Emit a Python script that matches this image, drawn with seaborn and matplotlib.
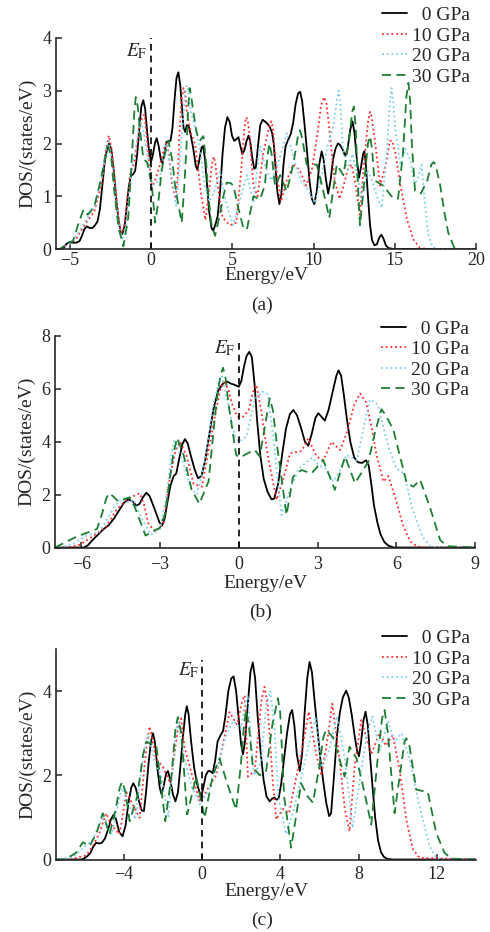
import numpy as np
import pandas as pd
import matplotlib
matplotlib.use("Agg")
import matplotlib.pyplot as plt
import seaborn as sns

# ---- data (energy in eV, DOS in states/eV) ----
labels = ["  0 GPa", "10 GPa", "20 GPa", "30 GPa"]

# panel (a)
a0_e = [-5.85, -5.5, -5.35, -5.2, -5.0, -4.8, -4.6, -4.4, -4.25, -4.1, -3.95, -3.8, -3.6, -3.45, -3.3, -3.15, -3.0, -2.85, -2.7, -2.58, -2.45, -2.3, -2.15, -2.0, -1.88, -1.75, -1.62, -1.5, -1.38, -1.25, -1.1, -0.98, -0.85, -0.72, -0.6, -0.48, -0.36, -0.25, -0.12, 0.0, 0.12, 0.25, 0.35, 0.47, 0.6, 0.7, 0.82, 0.95, 1.08, 1.2, 1.32, 1.45, 1.57, 1.68, 1.8, 1.9, 2.0, 2.1, 2.2, 2.32, 2.45, 2.6, 2.75, 2.85, 2.98, 3.1, 3.2, 3.32, 3.45, 3.58, 3.72, 3.82, 3.95, 4.1, 4.25, 4.4, 4.55, 4.7, 4.85, 4.98, 5.12, 5.25, 5.38, 5.5, 5.62, 5.75, 5.88, 6.0, 6.1, 6.22, 6.35, 6.45, 6.58, 6.72, 6.87, 7.0, 7.15, 7.3, 7.45, 7.55, 7.65, 7.77, 7.9, 8.02, 8.15, 8.28, 8.45, 8.6, 8.75, 8.9, 9.05, 9.18, 9.3, 9.45, 9.6, 9.75, 9.9, 10.05, 10.2, 10.35, 10.5, 10.62, 10.75, 10.9, 11.05, 11.2, 11.35, 11.5, 11.62, 11.8, 11.95, 12.1, 12.25, 12.4, 12.52, 12.65, 12.8, 12.92, 13.05, 13.13, 13.22, 13.35, 13.48, 13.6, 13.75, 13.9, 14.05, 14.18, 14.3, 14.45, 14.6, 14.9, 20.0]
a0_d = [0, 0, 0.03, 0.1, 0.13, 0.12, 0.12, 0.15, 0.25, 0.38, 0.43, 0.4, 0.4, 0.45, 0.52, 0.75, 1.2, 1.65, 1.92, 2.0, 1.9, 1.5, 0.95, 0.55, 0.33, 0.28, 0.45, 0.8, 1.15, 1.38, 1.42, 1.48, 1.8, 2.3, 2.7, 2.82, 2.65, 2.25, 1.85, 1.65, 1.8, 2.02, 2.1, 1.95, 1.7, 1.62, 1.8, 2.03, 2.05, 2.05, 2.3, 2.85, 3.25, 3.35, 3.1, 2.7, 2.3, 2.22, 2.35, 2.33, 2.15, 1.9, 1.58, 1.5, 1.7, 1.92, 1.95, 1.7, 1.2, 0.7, 0.4, 0.35, 0.45, 0.62, 1.1, 1.8, 2.3, 2.5, 2.4, 2.15, 2.05, 2.08, 2.12, 1.95, 1.8, 1.88, 2.05, 2.15, 2.05, 1.75, 1.52, 1.55, 1.95, 2.35, 2.45, 2.42, 2.38, 2.32, 2.2, 2.0, 1.6, 1.1, 0.85, 1.05, 1.6, 1.95, 2.08, 2.18, 2.4, 2.75, 2.95, 2.98, 2.8, 2.35, 1.85, 1.3, 0.95, 0.85, 1.1, 1.6, 1.85, 1.7, 1.35, 1.05, 1.3, 1.7, 1.9, 2.0, 1.98, 1.88, 1.76, 1.9, 2.25, 2.42, 2.2, 1.75, 1.35, 1.55, 1.8, 1.85, 1.6, 1.0, 0.45, 0.17, 0.07, 0.09, 0.22, 0.27, 0.2, 0.07, 0.02, 0, 0]

a10_e = [-5.85, -5.6, -5.0, -4.6, -4.0, -3.5, -3.0, -2.8, -2.6, -2.4, -2.2, -1.95, -1.8, -1.6, -1.3, -1.0, -0.7, -0.55, -0.4, -0.2, 0.05, 0.25, 0.5, 0.8, 0.95, 1.1, 1.3, 1.5, 1.65, 1.75, 1.88, 2.0, 2.12, 2.2, 2.45, 2.7, 2.9, 3.1, 3.35, 3.6, 3.75, 3.85, 3.95, 4.1, 4.4, 4.85, 5.25, 5.55, 5.75, 5.85, 5.95, 6.05, 6.3, 6.55, 6.9, 7.25, 7.4, 7.5, 7.6, 7.75, 8.0, 8.35, 8.75, 9.15, 9.55, 9.9, 10.25, 10.45, 10.65, 10.8, 11.0, 11.3, 11.6, 11.85, 12.1, 12.35, 12.6, 12.85, 13.1, 13.35, 13.48, 13.58, 13.8, 14.1, 14.45, 14.7, 14.85, 15.05, 15.35, 15.75, 16.15, 16.55, 17.0, 20.0]
a10_d = [0, 0, 0.1, 0.2, 0.5, 0.7, 1.3, 1.85, 2.15, 1.85, 1.2, 0.45, 0.3, 0.5, 1.4, 1.7, 2.3, 2.5, 2.55, 1.9, 1.15, 1.3, 1.55, 1.9, 2.02, 1.8, 1.2, 0.95, 1.4, 2.2, 2.85, 3.05, 2.9, 2.6, 2.2, 2.0, 1.5, 1.0, 0.55, 1.2, 1.6, 1.75, 1.65, 1.2, 0.6, 0.45, 0.5, 1.5, 2.3, 2.5, 2.45, 2.2, 1.2, 1.0, 1.8, 2.3, 2.42, 2.3, 1.9, 1.4, 0.9, 1.3, 1.6, 1.5, 1.2, 1.5, 2.2, 2.7, 2.88, 2.75, 2.2, 1.3, 0.95, 1.2, 1.5, 1.6, 1.2, 0.65, 1.6, 2.4, 2.6, 2.5, 2.0, 1.2, 1.6, 2.05, 2.05, 1.8, 1.2, 0.56, 0.18, 0.02, 0, 0]

a20_e = [-5.85, -5.5, -5.0, -4.5, -4.0, -3.5, -3.0, -2.75, -2.6, -2.4, -2.2, -1.95, -1.75, -1.5, -1.2, -0.9, -0.75, -0.65, -0.5, -0.35, 0.1, 0.5, 0.75, 0.95, 1.25, 1.55, 1.8, 2.0, 2.12, 2.22, 2.32, 2.45, 2.8, 3.05, 3.3, 3.6, 3.9, 4.25, 4.6, 5.05, 5.45, 5.9, 6.3, 6.7, 7.0, 7.4, 7.8, 8.35, 8.8, 9.2, 9.7, 10.1, 10.5, 10.9, 11.2, 11.45, 11.55, 11.65, 11.8, 12.1, 12.4, 12.7, 13.0, 13.3, 13.6, 13.9, 14.2, 14.5, 14.7, 14.8, 14.9, 15.05, 15.35, 15.65, 15.95, 16.2, 16.4, 16.65, 16.85, 17.05, 17.3, 17.6, 20.0]
a20_d = [0, 0, 0.1, 0.3, 0.55, 0.8, 1.4, 1.9, 2.05, 1.7, 1.0, 0.4, 0.2, 0.5, 1.5, 2.0, 2.3, 2.4, 2.3, 2.0, 1.2, 1.3, 1.7, 2.0, 1.4, 0.8, 1.8, 2.6, 3.0, 3.1, 2.95, 2.6, 2.2, 1.8, 1.2, 0.9, 1.1, 1.47, 0.9, 0.45, 0.9, 1.4, 0.9, 1.95, 1.6, 1.3, 1.6, 2.2, 1.7, 1.3, 1.1, 0.87, 1.4, 2.0, 2.3, 2.85, 3.0, 2.8, 1.9, 1.5, 1.8, 1.4, 0.9, 1.5, 1.3, 1.0, 0.78, 1.8, 2.8, 3.05, 2.8, 2.2, 1.6, 1.9, 1.7, 1.25, 1.3, 1.6, 0.9, 0.3, 0.05, 0, 0]

a30_e = [-5.85, -5.6, -5.1, -4.8, -4.45, -4.15, -3.9, -3.5, -3.1, -2.85, -2.65, -2.45, -2.3, -2.0, -1.7, -1.4, -1.15, -1.03, -0.94, -0.82, -0.7, -0.47, -0.25, 0.05, 0.25, 0.45, 0.66, 0.85, 1.07, 1.3, 1.48, 1.7, 1.89, 2.05, 2.19, 2.3, 2.38, 2.47, 2.6, 2.81, 3.0, 3.22, 3.4, 3.53, 3.7, 3.94, 4.2, 4.45, 4.66, 4.9, 5.07, 5.35, 5.68, 5.9, 6.3, 6.7, 7.0, 7.15, 7.28, 7.42, 7.63, 7.95, 8.35, 8.75, 9.05, 9.17, 9.3, 9.58, 10.2, 10.6, 10.97, 11.43, 11.84, 12.2, 12.38, 12.48, 12.6, 12.7, 12.86, 13.1, 13.35, 13.48, 13.6, 13.75, 14.3, 14.8, 15.2, 15.5, 15.72, 15.84, 15.95, 16.05, 16.25, 16.6, 17.0, 17.25, 17.4, 17.55, 17.8, 18.05, 18.3, 18.7, 20.0]
a30_d = [0, 0, 0.12, 0.15, 0.5, 0.75, 0.65, 0.8, 1.3, 1.7, 1.95, 1.75, 1.2, 0.4, 0.05, 0.6, 1.9, 2.6, 2.88, 2.7, 2.3, 1.7, 1.65, 1.2, 0.5, 0.9, 1.5, 1.8, 2.05, 1.7, 1.2, 0.8, 0.5, 1.2, 2.0, 2.75, 3.05, 2.9, 2.6, 2.2, 2.05, 2.14, 1.6, 1.0, 0.5, 0.25, 0.6, 1.0, 1.26, 1.25, 1.2, 0.8, 0.4, 0.37, 1.0, 0.94, 1.2, 1.7, 2.0, 1.8, 1.2, 1.4, 1.09, 1.6, 2.15, 2.25, 2.1, 1.6, 1.6, 1.1, 0.59, 1.6, 1.4, 2.1, 2.6, 2.7, 2.3, 1.4, 0.45, 1.2, 2.0, 2.14, 1.9, 1.3, 1.2, 1.0, 0.95, 1.8, 2.9, 3.15, 2.8, 2.0, 1.1, 1.05, 1.3, 1.6, 1.65, 1.55, 1.2, 0.7, 0.3, 0, 0]

# panel (b)
b0_e = [-7.0, -5.9, -5.75, -5.6, -5.4, -5.2, -4.95, -4.75, -4.55, -4.38, -4.22, -4.05, -3.9, -3.78, -3.65, -3.52, -3.4, -3.28, -3.15, -3.02, -2.92, -2.82, -2.72, -2.6, -2.48, -2.38, -2.28, -2.15, -2.05, -1.95, -1.82, -1.68, -1.55, -1.42, -1.28, -1.12, -0.95, -0.78, -0.6, -0.45, -0.3, -0.15, 0.0, 0.1, 0.2, 0.3, 0.4, 0.5, 0.6, 0.7, 0.82, 0.95, 1.1, 1.25, 1.35, 1.5, 1.65, 1.8, 1.95, 2.08, 2.22, 2.38, 2.52, 2.65, 2.78, 2.92, 3.03, 3.15, 3.28, 3.42, 3.58, 3.72, 3.8, 3.9, 4.0, 4.12, 4.25, 4.4, 4.55, 4.7, 4.85, 4.95, 5.05, 5.15, 5.28, 5.4, 5.55, 5.7, 5.9, 9.0]
b0_d = [0, 0, 0.08, 0.25, 0.45, 0.65, 0.85, 1.1, 1.42, 1.68, 1.82, 1.75, 1.58, 1.65, 1.9, 2.07, 1.95, 1.65, 1.3, 0.95, 0.83, 1.1, 1.7, 2.35, 2.7, 2.8, 3.3, 3.9, 4.1, 3.95, 3.45, 2.95, 2.62, 2.7, 3.3, 4.3, 5.3, 5.95, 6.2, 6.28, 6.2, 6.15, 6.08, 6.3, 6.85, 7.25, 7.4, 7.2, 6.2, 4.8, 3.5, 2.6, 2.1, 1.82, 1.85, 2.4, 3.5, 4.5, 5.05, 5.2, 5.0, 4.5, 4.0, 3.85, 4.3, 4.9, 5.08, 4.95, 4.8, 5.2, 5.9, 6.5, 6.7, 6.5, 5.8, 4.85, 4.0, 3.4, 3.22, 3.2, 3.3, 3.1, 2.4, 1.6, 0.95, 0.5, 0.2, 0.07, 0, 0]

b10_e = [-7.0, -6.5, -6.07, -5.56, -5.04, -4.66, -4.28, -4.0, -3.77, -3.6, -3.45, -3.19, -2.87, -2.62, -2.4, -2.23, -1.98, -1.72, -1.4, -0.96, -0.7, -0.57, -0.4, -0.26, -0.06, 0.17, 0.38, 0.55, 0.67, 0.85, 1.1, 1.44, 1.7, 1.95, 2.39, 2.65, 2.96, 3.22, 3.54, 3.86, 4.11, 4.4, 4.62, 4.85, 5.06, 5.25, 5.51, 5.7, 5.95, 6.27, 6.53, 6.78, 7.0, 9.0]
b10_d = [0, 0, 0.1, 0.42, 0.8, 1.42, 1.8, 1.95, 2.05, 1.6, 0.92, 0.6, 0.9, 2.68, 3.7, 4.0, 3.44, 2.4, 2.3, 4.7, 6.0, 6.25, 6.0, 5.45, 4.95, 4.95, 5.2, 5.9, 6.15, 5.2, 3.5, 1.8, 2.6, 3.56, 3.65, 4.13, 3.44, 3.3, 4.0, 3.69, 4.32, 5.4, 5.83, 5.5, 4.57, 3.5, 2.49, 2.7, 1.93, 0.8, 0.23, 0.05, 0, 0]

b20_e = [-7.0, -6.8, -6.3, -5.8, -5.3, -5.0, -4.7, -4.45, -4.2, -4.0, -3.7, -3.35, -3.0, -2.75, -2.55, -2.45, -2.15, -1.85, -1.6, -1.3, -0.95, -0.75, -0.65, -0.4, -0.15, 0.0, 0.3, 0.6, 0.9, 1.1, 1.31, 1.63, 1.95, 2.3, 2.55, 2.8, 3.05, 3.3, 3.6, 3.85, 4.1, 4.5, 4.75, 5.0, 5.3, 5.7, 6.0, 6.3, 6.6, 7.0, 7.3, 7.6, 9.0]
b20_d = [0, 0, 0.15, 0.45, 0.6, 1.1, 1.6, 1.85, 1.7, 1.8, 1.1, 0.48, 0.7, 2.0, 3.6, 4.05, 3.3, 2.3, 2.0, 3.2, 5.5, 6.3, 6.5, 5.4, 4.2, 4.0, 4.2, 5.6, 5.9, 5.8, 4.2, 1.23, 2.2, 3.0, 3.2, 3.4, 3.1, 3.0, 2.5, 2.9, 3.5, 3.3, 4.5, 5.6, 5.4, 3.8, 3.0, 2.8, 1.5, 0.4, 0.05, 0, 0]

b30_e = [-7.0, -6.8, -6.2, -5.8, -5.4, -5.2, -5.05, -4.95, -4.8, -4.6, -4.3, -4.15, -3.95, -3.55, -3.3, -3.0, -2.8, -2.5, -2.35, -2.1, -1.8, -1.5, -1.15, -0.85, -0.7, -0.6, -0.5, -0.4, -0.1, 0.05, 0.29, 0.61, 0.8, 1.0, 1.18, 1.3, 1.44, 1.82, 2.07, 2.39, 2.77, 3.22, 3.66, 4.05, 4.43, 4.94, 5.2, 5.44, 5.6, 5.89, 6.4, 6.65, 6.91, 7.29, 7.67, 7.93, 9.0]
b30_d = [0, 0.1, 0.4, 0.55, 0.7, 1.3, 1.85, 2.05, 1.95, 1.75, 1.85, 1.9, 1.5, 0.45, 0.6, 0.75, 1.3, 3.5, 4.15, 3.5, 2.2, 1.65, 2.5, 5.5, 6.5, 6.8, 6.4, 5.5, 3.5, 3.4, 3.54, 3.69, 3.44, 4.6, 5.64, 5.2, 4.0, 1.23, 2.68, 2.93, 2.8, 3.31, 2.18, 3.44, 2.43, 3.25, 4.4, 5.23, 5.0, 4.45, 2.43, 2.3, 2.56, 1.5, 0.29, 0.05, 0]

# panel (c)
c0_e = [-7.45, -6.15, -6.0, -5.85, -5.7, -5.55, -5.4, -5.25, -5.1, -4.95, -4.8, -4.65, -4.5, -4.38, -4.22, -4.05, -3.9, -3.75, -3.6, -3.5, -3.38, -3.22, -3.08, -2.96, -2.85, -2.72, -2.6, -2.5, -2.4, -2.28, -2.15, -2.06, -1.95, -1.82, -1.73, -1.62, -1.48, -1.35, -1.22, -1.1, -0.97, -0.85, -0.77, -0.68, -0.55, -0.4, -0.25, -0.12, -0.03, 0.07, 0.2, 0.32, 0.42, 0.55, 0.68, 0.8, 0.95, 1.08, 1.2, 1.35, 1.5, 1.62, 1.75, 1.88, 2.0, 2.1, 2.2, 2.35, 2.48, 2.6, 2.72, 2.85, 3.0, 3.15, 3.3, 3.46, 3.6, 3.71, 3.82, 3.92, 4.05, 4.2, 4.35, 4.5, 4.61, 4.72, 4.85, 5.0, 5.12, 5.25, 5.38, 5.5, 5.62, 5.75, 5.9, 6.05, 6.2, 6.35, 6.5, 6.6, 6.75, 6.9, 7.05, 7.2, 7.37, 7.5, 7.65, 7.8, 7.92, 8.02, 8.12, 8.25, 8.36, 8.47, 8.6, 8.72, 8.85, 9.0, 9.15, 9.3, 9.5, 9.8, 14.0]
c0_d = [0, 0, 0.03, 0.08, 0.15, 0.3, 0.4, 0.38, 0.4, 0.5, 0.7, 0.95, 1.07, 0.95, 0.65, 0.55, 0.8, 1.35, 1.72, 1.81, 1.7, 1.4, 1.17, 1.15, 1.6, 2.3, 2.8, 3.0, 2.8, 2.2, 1.7, 1.55, 1.75, 2.05, 2.1, 1.9, 1.55, 1.38, 1.6, 2.2, 2.9, 3.45, 3.64, 3.45, 2.8, 2.2, 1.8, 1.6, 1.5, 1.7, 2.0, 2.1, 2.1, 2.05, 2.35, 2.8, 2.95, 3.05, 3.4, 4.0, 4.3, 4.35, 4.0, 3.35, 2.75, 2.5, 2.8, 3.7, 4.45, 4.68, 4.3, 3.4, 2.55, 1.9, 1.5, 1.38, 1.45, 1.47, 1.42, 1.45, 1.8, 2.4, 3.0, 3.45, 3.55, 3.2, 2.5, 2.1, 2.5, 3.5, 4.3, 4.69, 4.45, 3.8, 3.1, 2.4, 1.85, 1.35, 1.03, 1.1, 2.0, 2.95, 3.5, 3.85, 4.01, 3.85, 3.45, 2.95, 2.6, 2.45, 2.75, 3.3, 3.51, 3.2, 2.4, 1.7, 1.0, 0.45, 0.17, 0.06, 0.01, 0, 0]

c10_e = [-7.45, -6.4, -5.9, -5.57, -5.23, -4.89, -4.6, -4.2, -3.86, -3.18, -2.85, -2.67, -2.5, -2.35, -1.99, -1.6, -1.2, -1.06, -0.89, -0.5, -0.12, 0.2, 0.73, 1.1, 1.41, 1.8, 2.05, 2.18, 2.35, 2.7, 3.05, 3.2, 3.35, 3.63, 3.8, 4.14, 4.45, 4.75, 5.07, 5.46, 5.84, 6.1, 6.4, 6.66, 7.0, 7.3, 7.54, 7.8, 8.14, 8.4, 8.65, 9.07, 9.4, 9.75, 10.1, 10.44, 10.78, 11.12, 14.0]
c10_d = [0, 0.04, 0.1, 0.32, 0.63, 1.1, 0.8, 0.6, 1.6, 0.99, 2.6, 3.16, 2.8, 2.4, 2.2, 1.8, 3.2, 3.35, 2.68, 2.0, 1.4, 1.6, 2.0, 2.8, 3.5, 3.2, 3.75, 3.9, 1.97, 2.1, 3.8, 4.1, 3.7, 1.8, 0.95, 1.2, 1.1, 1.8, 2.5, 3.51, 2.5, 2.0, 2.8, 3.7, 2.5, 1.2, 0.67, 2.2, 3.31, 2.9, 2.5, 3.0, 2.7, 2.96, 2.13, 0.95, 0.24, 0.04, 0]

c20_e = [-7.45, -6.6, -6.0, -5.6, -5.3, -5.0, -4.6, -4.1, -3.4, -2.95, -2.75, -2.55, -2.4, -2.1, -1.7, -1.35, -1.2, -0.9, -0.5, -0.1, 0.3, 0.8, 1.2, 1.6, 2.0, 2.2, 2.35, 2.65, 3.0, 3.3, 3.5, 3.7, 3.9, 4.3, 4.7, 5.1, 5.5, 5.8, 6.1, 6.5, 6.9, 7.3, 7.7, 8.1, 8.4, 8.7, 9.1, 9.5, 9.85, 10.2, 10.6, 11.12, 11.63, 11.97, 12.3, 14.0]
c20_d = [0, 0.05, 0.3, 0.45, 0.75, 1.05, 0.6, 1.7, 0.95, 2.6, 3.0, 2.6, 2.3, 2.0, 1.0, 3.0, 3.3, 2.4, 1.7, 1.3, 1.6, 2.2, 2.9, 3.3, 3.1, 3.7, 3.9, 2.0, 2.3, 3.7, 4.0, 3.2, 1.5, 0.6, 1.2, 2.0, 2.8, 3.4, 2.2, 2.6, 3.4, 2.4, 0.75, 2.0, 2.9, 3.4, 2.6, 3.3, 2.8, 3.0, 2.4, 1.26, 0.32, 0.04, 0, 0]

c30_e = [-7.45, -7.0, -6.42, -6.08, -5.74, -5.4, -5.06, -4.72, -4.4, -4.2, -4.07, -3.9, -3.69, -3.3, -3.0, -2.84, -2.6, -2.33, -2.1, -1.87, -1.55, -1.35, -1.23, -1.05, -0.75, -0.29, 0.14, 0.56, 0.9, 1.3, 1.75, 2.0, 2.15, 2.26, 2.4, 2.6, 2.95, 3.28, 3.6, 3.88, 4.0, 4.2, 4.56, 5.07, 5.4, 5.67, 6.0, 6.2, 6.35, 6.5, 6.7, 7.29, 7.54, 7.9, 8.3, 8.65, 9.0, 9.2, 9.33, 9.5, 9.84, 10.2, 10.35, 10.44, 10.6, 10.95, 11.54, 11.97, 12.39, 12.73, 14.0]
c30_d = [0, 0, 0.16, 0.41, 0.32, 0.6, 1.1, 0.59, 1.2, 1.7, 1.85, 1.6, 0.91, 1.5, 2.5, 2.8, 2.75, 2.72, 1.8, 0.91, 2.0, 3.1, 3.38, 3.0, 1.07, 1.97, 0.99, 2.0, 2.4, 1.8, 1.18, 2.3, 3.2, 3.55, 3.2, 2.2, 2.0, 2.1, 3.2, 3.83, 3.5, 1.5, 0.28, 1.81, 1.5, 1.35, 2.2, 2.9, 3.08, 3.0, 2.9, 1.97, 2.68, 2.4, 1.6, 0.83, 2.5, 3.35, 3.55, 3.0, 1.1, 2.3, 2.8, 2.88, 2.7, 1.66, 1.6, 0.63, 0.16, 0.02, 0]

panels = [
    ("(a)", [(a0_e, a0_d), (a10_e, a10_d), (a20_e, a20_d), (a30_e, a30_d)]),
    ("(b)", [(b0_e, b0_d), (b10_e, b10_d), (b20_e, b20_d), (b30_e, b30_d)]),
    ("(c)", [(c0_e, c0_d), (c10_e, c10_d), (c20_e, c20_d), (c30_e, c30_d)]),
]
xlims = [(-5.85, 20), (-7, 9), (-7.45, 14)]
ylims = [(0, 4), (0, 8), (0, 5)]
xticks = [[-5, 0, 5, 10, 15, 20], [-6, -3, 0, 3, 6, 9], [-4, 0, 4, 8, 12]]
yticks = [[0, 1, 2, 3, 4], [0, 2, 4, 6, 8], [0, 2, 4]]
ef_top = [4.0, 7.9, 4.73]
ef_text = [(-0.86, 3.76), (-0.52, 7.55), (-0.68, 4.5)]

colors = ["black", "#ff2a2a", "#7fcfee", "#1c7f33"]
styles = ["-", (0, (1, 1.6)), (0, (1, 1.6)), (0, (5, 3))]

sns.set_style("ticks")
plt.rcParams["font.family"] = ["Liberation Serif", "DejaVu Serif"]
plt.rcParams["mathtext.fontset"] = "stix"

W, H = 490, 932
fig = plt.figure(figsize=(W / 100, H / 100), dpi=100)

# axes boxes in pixels: left, top, right, bottom
boxes = [(56, 38, 476, 249), (55, 336, 475, 547.5), (56, 649, 476, 859.5)]
xlab_y = [276, 584, 892]
tag_y = [305, 612, 920]
leg_top = [1.149, 1.076, 1.093]
tick_pad = [2, 6, 5]

for i, (tag, series) in enumerate(panels):
    l, t, r, b = boxes[i]
    ax = fig.add_axes([l / W, 1 - b / H, (r - l) / W, (b - t) / H])
    for j, (e, d) in enumerate(series):
        df = pd.DataFrame({"Energy": e, "DOS": d})
        sns.lineplot(data=df, x="Energy", y="DOS", ax=ax, color=colors[j],
                     linestyle=styles[j], linewidth=1.3, label=labels[j],
                     sort=False, estimator=None)
    for ln in ax.get_lines():
        ln.set_solid_joinstyle("round")
    ax.plot([0, 0], [0, ef_top[i]], color="black", linestyle=(0, (4, 3)), linewidth=1.2)
    ax.text(ef_text[i][0], ef_text[i][1], r"$E_{\mathrm{F}}$", fontsize=14,
            ha="center", va="center")
    ax.set_xlim(*xlims[i])
    ax.set_ylim(*ylims[i])
    ax.set_xticks(xticks[i])
    ax.set_yticks(yticks[i])
    ax.set_xticklabels([str(v).replace("-", "\u2212") for v in xticks[i]])
    ax.set_xlabel("")
    ax.set_ylabel("DOS/(states/eV)", fontsize=14, labelpad=4)
    ax.tick_params(direction="in", length=4, width=1.1, labelsize=13)
    ax.tick_params(axis="x", pad=tick_pad[i])
    sns.despine(ax=ax)
    for s in ("left", "bottom"):
        ax.spines[s].set_linewidth(1.2)
    ax.legend(loc="upper right", bbox_to_anchor=(0.985, leg_top[i]), frameon=False,
              fontsize=14, handlelength=1.25, handletextpad=0.25, labelspacing=0.15,
              borderpad=0, borderaxespad=0)
    cx = (l + r) / 2 / W
    fig.text(cx, 1 - xlab_y[i] / H, "Energy/eV", fontsize=14, ha="center", va="center")
    fig.text(cx - 4 / W, 1 - tag_y[i] / H, tag, fontsize=14, ha="center", va="center")

fig.savefig("out.png", dpi=100)
